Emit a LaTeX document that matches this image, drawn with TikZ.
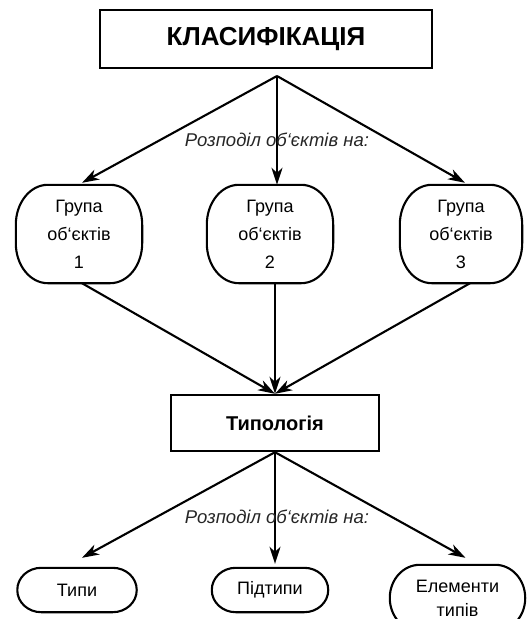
\documentclass[tikz,border=0pt]{standalone}
\usepackage{fontspec}
\setmainfont{Liberation Sans}
\usetikzlibrary{arrows.meta,calc}
\tikzset{
  arr/.style={line width=2.1pt, -{Stealth[length=17pt,width=11pt,inset=5pt]}},
  rline/.style={line width=2.1pt},
  sqbox/.style={draw, line width=2.4pt, inner sep=0pt, align=center},
  rbox/.style={inner sep=0pt, align=center, font=\fontsize{18}{28}\selectfont},
  lbl/.style={font=\fontsize{18.5}{20}\selectfont\itshape, text=black!85, inner sep=0pt}
}
\newcommand\myrframe[3]{\draw[rline] let \p1=(#1.north west), \p2=(#1.south east) in
 (\x1+#2,\y1) -- (\x2-#2,\y1) .. controls (\x2-0.4477*#2,\y1) and (\x2,\y1-0.4477*#3) .. (\x2,\y1-#3)
 -- (\x2,\y2+#3) .. controls (\x2,\y2+0.4477*#3) and (\x2-0.4477*#2,\y2) .. (\x2-#2,\y2)
 -- (\x1+#2,\y2) .. controls (\x1+0.4477*#2,\y2) and (\x1,\y2+0.4477*#3) .. (\x1,\y2+#3)
 -- (\x1,\y1-#3) .. controls (\x1,\y1-0.4477*#3) and (\x1+0.4477*#2,\y1) .. cycle;}
\begin{document}
\begin{tikzpicture}[x=1pt,y=-1pt]
\useasboundingbox (0,0) rectangle (531,619);
\begin{scope}
\clip (0,0) rectangle (531,619);
\node[sqbox, minimum width=332pt, minimum height=58pt, font=\fontsize{26}{28}\selectfont\bfseries] (klas) at (266,39) {КЛАСИФІКАЦІЯ};
\coordinate (ap1) at (277,76);
\node[rbox, minimum width=126pt, minimum height=98pt] (g1) at (79,234) {Група\\об`єктів\\1};
\node[rbox, minimum width=126pt, minimum height=98pt] (g2) at (270,234) {Група\\об`єктів\\2};
\node[rbox, minimum width=122pt, minimum height=98pt] (g3) at (461,234) {Група\\об`єктів\\3};
\myrframe{g1}{32pt}{40pt}
\myrframe{g2}{32pt}{40pt}
\myrframe{g3}{32pt}{40pt}
\draw[arr] (ap1) -- ([shift={(3pt,2pt)}]g1.north);
\draw[arr] (ap1) -- (ap1 |- g2.north);
\draw[arr] (ap1) -- ([shift={(4pt,2pt)}]g3.north);
\node[lbl] (l1) at (277,140) {Розподіл об`єктів на:};
\node[sqbox, minimum width=208pt, minimum height=56pt, font=\fontsize{20}{22}\selectfont\bfseries] (typ) at (275,423) {Типологія};
\draw[arr] ([xshift=3pt]g1.south) -- (typ.north);
\draw[arr] (g2.south -| typ.north) -- (typ.north);
\draw[arr] ([xshift=9pt]g3.south) -- (typ.north);
\coordinate (ap2) at (typ.south);
\node[rbox, minimum width=119pt, minimum height=44pt] (t1) at (77,590) {Типи};
\node[rbox, minimum width=116pt, minimum height=44pt] (t2) at (270,590) {Підтипи};
\node[rbox, font=\fontsize{18}{24}\selectfont, minimum width=135pt, minimum height=66pt] (t3) at (457.5,598) {Елементи\\типів};
\myrframe{t1}{24pt}{22pt}
\myrframe{t2}{24pt}{22pt}
\myrframe{t3}{30pt}{33pt}
\draw[arr] (ap2) -- ([shift={(5pt,10pt)}]t1.north);
\draw[arr, shorten >=4pt] (ap2) -- (ap2 |- t2.north);
\draw[arr] (ap2) -- ([shift={(8pt,7pt)}]t3.north);
\node[lbl] (l2) at (277,517) {Розподіл об`єктів на:};
\end{scope}
\end{tikzpicture}
\end{document}
